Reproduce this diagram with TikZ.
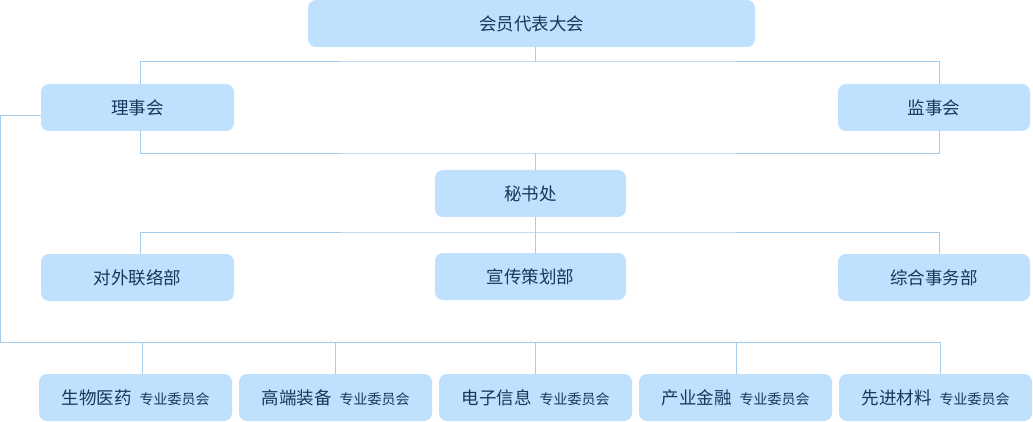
\documentclass[tikz,border=0pt]{standalone}
\usepackage{fontspec}
\newfontfamily\cjk{Noto Sans CJK SC}
\definecolor{boxfill}{HTML}{BFE1FD}
\definecolor{linec}{HTML}{A3CDEE}
\definecolor{txt}{HTML}{15385E}
\tikzset{
  org/.style={draw=none,fill=boxfill,rounded corners=8pt,minimum height=47pt,inner sep=0pt,text=txt,font=\cjk\fontsize{17.5}{20}\selectfont},
  conn/.style={draw=linec,line width=0.9pt},
}
\newcommand{\sub}{\fontsize{14}{16}\selectfont}
\begin{document}
\begin{tikzpicture}[x=1pt,y=-1pt]
\useasboundingbox (0,0) rectangle (1033,422);
\node[org,minimum width=447pt] (top) at (531.5,23.5) {会员代表大会};
\node[org,minimum width=193pt] (lsh) at (137.5,107.5) {理事会};
\node[org,minimum width=192pt] (jsh) at (934,107.5) {监事会};
\node[org,minimum width=191pt] (msc) at (530.5,193.5) {秘书处};
\node[org,minimum width=193pt] (dw) at (137.5,277.5) {对外联络部};
\node[org,minimum width=191pt] (xc) at (530.5,276.5) {宣传策划部};
\node[org,minimum width=192pt] (zh) at (934,277.5) {综合事务部};
\node[org,minimum width=193pt] (b1) at (135.5,397.5) {生物医药\hspace{8pt}{\sub 专业委员会}};
\node[org,minimum width=193pt] (b2) at (335.5,397.5) {高端装备\hspace{8pt}{\sub 专业委员会}};
\node[org,minimum width=193pt] (b3) at (535.5,397.5) {电子信息\hspace{8pt}{\sub 专业委员会}};
\node[org,minimum width=193pt] (b4) at (735.5,397.5) {产业金融\hspace{8pt}{\sub 专业委员会}};
\node[org,minimum width=193pt] (b5) at (935.5,397.5) {先进材料\hspace{8pt}{\sub 专业委员会}};
\coordinate (h1) at (535,61);
\coordinate (h2) at (535,153);
\coordinate (h3) at (535,232);
\coordinate (h4) at (0,342);
% top to council level
\draw[conn] (535,47) -- (h1);
\draw[conn] (lsh.north -| 140,0) |- (h1) -| (jsh.north -| 939,0);
% council to secretariat
\draw[conn] (lsh.south -| 140,0) |- (h2) -| (jsh.south -| 939,0);
\draw[conn] (h2) -- (msc.north -| h2);
% secretariat to departments
\draw[conn] (msc.south -| h3) -- (h3);
\draw[conn] (dw.north -| 140,0) |- (h3) -| (zh.north -| 939,0);
\draw[conn] (h3) -- (xc.north -| h3);
% council to committees
\draw[conn] (lsh.west |- 0,115) -- (0.5,115) -- (0.5,342) -- (940,342);
\foreach \b/\x in {b1/142,b2/335,b3/535,b4/736,b5/940}{
  \draw[conn] (\x,342) -- (\b.north -| \x,0);
}
\end{tikzpicture}
\end{document}
